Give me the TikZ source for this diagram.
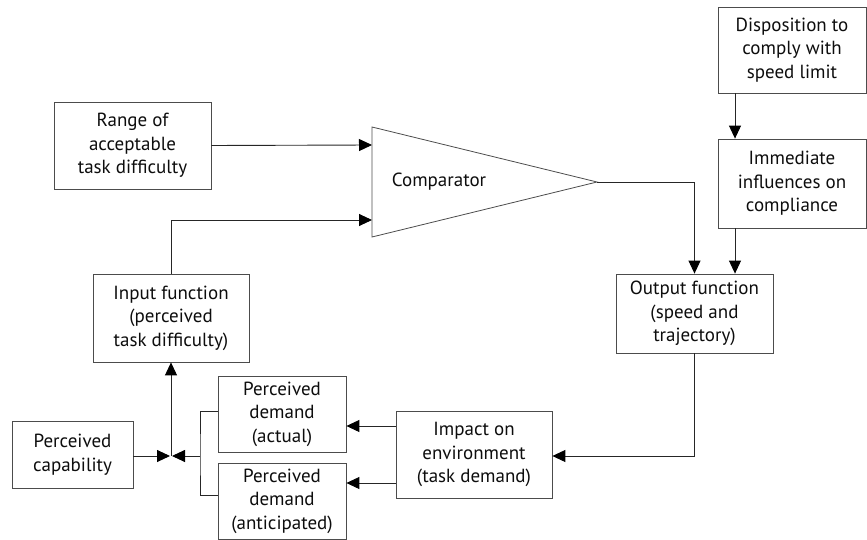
\documentclass[tikz,border=0pt]{standalone}
\usepackage{fontspec}
\setmainfont{PT Sans}
\usetikzlibrary{arrows.meta}
\tikzset{
  blk/.style={draw=black!70, line width=0.8pt, rectangle, align=center,
    inner sep=0pt, text=black!95,
    font=\fontsize{19}{23.5}\selectfont},
  link/.style={draw=black!85, line width=0.9pt},
  arr/.style={link, -{Triangle[length=13pt,width=12pt,color=black]}},
}
\begin{document}
\begin{tikzpicture}[x=1pt,y=-1pt]
\useasboundingbox (0,0) rectangle (867,540);

% boxes
\node[blk, minimum width=157pt, minimum height=87pt] (range) at (132.5,145.5) {Range of\\acceptable\\task difficulty};
\node[blk, minimum width=156pt, minimum height=88pt] (input) at (171,318) {Input function\\(perceived\\task difficulty)};
\node[blk, minimum width=148pt, minimum height=86pt] (disp) at (792,50) {Disposition to\\comply with\\speed limit};
\node[blk, minimum width=148pt, minimum height=89pt] (imm) at (792,183.5) {Immediate\\influences on\\compliance};
\node[blk, minimum width=157pt, minimum height=79pt] (output) at (694.5,313.5) {Output function\\(speed and\\trajectory)};
\node[blk, minimum width=156pt, minimum height=87pt] (impact) at (474,454.5) {Impact on\\environment\\(task demand)};
\node[blk, minimum width=128pt, minimum height=76pt] (actual) at (282,414) {Perceived\\demand\\(actual)};
\node[blk, minimum width=128pt, minimum height=76pt] (antic) at (282,501) {Perceived\\demand\\(anticipated)};
\node[blk, minimum width=121pt, minimum height=67pt] (capab) at (72.5,454.5) {Perceived\\capability};

% comparator triangle
\coordinate (cmpTop) at (372,127);
\coordinate (cmpBot) at (372,237);
\coordinate (apex) at (597,182);
\coordinate (cmpInA) at (372,145);
\coordinate (cmpInB) at (372,220);
\draw[blk] (cmpTop) -- (apex) -- (cmpBot) -- cycle;
\node[blk, draw=none] (cmplabel) at (439,182) {Comparator};

% junction below the input function
\coordinate (junc) at (171,456);
\coordinate (brk) at (200,456);

% connectors
\draw[arr] (range.east) -- (cmpInA);
\draw[arr] (input.north) |- (cmpInB);
\draw[arr] (apex) -| (output.north);
\draw[arr] ([xshift=-57pt]disp.south) -- ([xshift=-57pt]imm.north);
\draw[arr] ([xshift=-57pt]imm.south) -- ([xshift=-57pt]imm.south |- output.north);
\draw[arr] (output.south) |- (impact.east |- junc);
\draw[arr] ([yshift=-12pt]actual.east -| impact.west) -- ([yshift=-12pt]actual.east);
\draw[arr] ([yshift=18pt]antic.east -| impact.west) -- ([yshift=18pt]antic.east);
\draw[link] ([yshift=3pt]actual.west) -| (brk) |- ([yshift=6pt]antic.west);
\draw[arr] (brk) -- ([xshift=1pt]junc);
\draw[arr] (capab.east |- junc) -- ([xshift=-1pt]junc);
\draw[arr] (junc) -- (input.south);
\end{tikzpicture}
\end{document}
